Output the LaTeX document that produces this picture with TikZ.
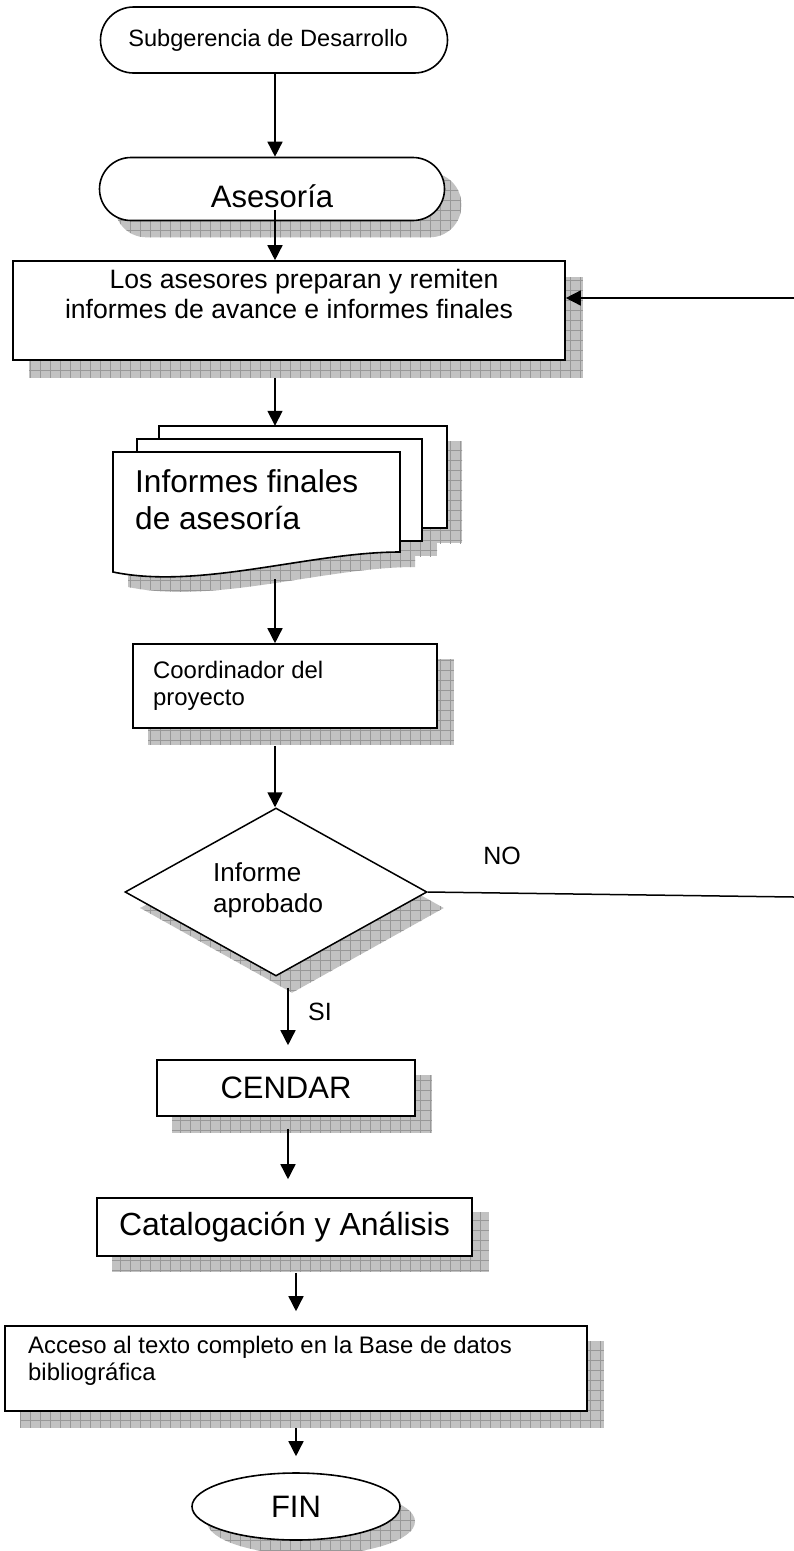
\documentclass[tikz,border=0pt]{standalone}
\usepackage{fontspec}
\setmainfont{Liberation Sans}
\usetikzlibrary{shapes.geometric,arrows.meta,backgrounds,calc}
\definecolor{shfill}{HTML}{C2C2C2}
\definecolor{shline}{HTML}{989898}
\newcommand\fs[2]{\fontsize{#1}{#2}\selectfont}
\newcommand\shadowfill[1]{%
  \fill[shfill] #1;
  \begin{scope}\clip #1;
    \draw[shline, line width=0.7pt, step=10pt] (0,1560) grid (800,0);
  \end{scope}}
\tikzset{
  box/.style={draw, line width=1.6pt, fill=white, inner sep=0pt, rectangle},
  sheet/.style={draw, line width=1.6pt, fill=white},
  conn/.style={line width=1.5pt, -{Triangle[length=15pt,width=15pt]}},
  plain/.style={line width=1.5pt},
  lbl/.style={inner sep=0pt, align=left}
}
\begin{document}
\begin{tikzpicture}[x=1pt,y=-1pt]
\useasboundingbox (0,0) rectangle (794,1551);

% column coordinates
\coordinate (cA) at (275,0);
\coordinate (cB) at (288,0);
\coordinate (cC) at (296,0);
\coordinate (loopin) at (794,298);
\coordinate (noend) at (794,897);

% nodes
\node[box, rounded corners=33pt, minimum width=347pt, minimum height=66pt] (sub) at (274,40) {};
\node[lbl, font=\fs{23.6}{27}] (subt) at (268,40) {Subgerencia de Desarrollo};
\node[box, rounded corners=31.5pt, minimum width=345pt, minimum height=63pt] (ases) at (272,189) {};
\node[lbl, font=\fs{31}{36}] (asest) at (272,196) {Asesoría};
\node[box, minimum width=552pt, minimum height=99pt] (b1) at (289,310.5) {};
\node[inner sep=0pt, align=center, font=\fs{26.6}{30}] (b1t) at (289,294) {\hspace*{30pt}Los asesores preparan y remiten\\informes de avance e informes finales};

% document stack
\node[inner sep=0pt, minimum width=334pt, minimum height=151pt] (docs) at (280,501.5) {};
\draw[sheet] (159,426) rectangle (447,528);
\draw[sheet] (137,439) rectangle (422,541);
\draw[sheet] (113,452) -- (400,452) -- (400,552) .. controls (310,552) and (200,590) .. (113,572) -- cycle;
\node[lbl, anchor=west, font=\fs{31.6}{37}] (docst) at (135,500) {Informes finales\\de asesoría};

\node[box, minimum width=304pt, minimum height=84pt] (coord) at (285,686) {};
\node[lbl, anchor=west, font=\fs{23.9}{27}] (coordt) at (153,686) {Coordinador del\\proyecto};

\node[diamond, draw, line width=1.5pt, fill=white, minimum width=302pt, minimum height=168pt, inner sep=0pt] (dec) at (276,892) {};
\node[lbl, anchor=west, font=\fs{26}{31}] (dect) at (213,890) {Informe\\aprobado};

\node[box, minimum width=258pt, minimum height=56pt, font=\fs{31}{36}] (cendar) at (286,1088) {CENDAR};
\node[box, minimum width=375pt, minimum height=58pt, font=\fs{32}{37}] (cat) at (284.5,1227) {Catalogación y Análisis};
\node[box, minimum width=582pt, minimum height=85pt] (acc) at (296,1368.5) {};
\node[lbl, anchor=west, font=\fs{23.9}{27}] (acct) at (28,1361) {Acceso al texto completo en la Base de datos\\bibliográfica};
\node[ellipse, draw, line width=1.6pt, fill=white, minimum width=208pt, minimum height=67pt, inner sep=0pt, font=\fs{31}{36}] (fin) at (296,1506.5) {FIN};

\node[lbl, font=\fs{25}{29}] (no) at (502,856) {NO};
\node[lbl, font=\fs{25}{29}] (si) at (320,1012) {SI};

% shadows
\begin{scope}[on background layer]
  \shadowfill{[rounded corners=31.5pt] ($(ases.south west)+(16,16)$) rectangle ($(ases.north east)+(16,16)$)}
  \shadowfill{($(b1.south west)+(17,17)$) rectangle ($(b1.north east)+(17,17)$)}
  \shadowfill{(174,441) rectangle (462,543)}
  \shadowfill{(152,454) rectangle (437,556)}
  \shadowfill{(128,467) -- (415,467) -- (415,567) .. controls (325,567) and (215,605) .. (128,587) -- cycle}
  \shadowfill{($(coord.south west)+(16,16)$) rectangle ($(coord.north east)+(16,16)$)}
  \shadowfill{($(dec.north)+(16,16)$) -- ($(dec.east)+(16,16)$) -- ($(dec.south)+(16,16)$) -- ($(dec.west)+(16,16)$) -- cycle}
  \shadowfill{($(cendar.south west)+(16,16)$) rectangle ($(cendar.north east)+(16,16)$)}
  \shadowfill{($(cat.south west)+(16,15)$) rectangle ($(cat.north east)+(16,15)$)}
  \shadowfill{($(acc.south west)+(16,16)$) rectangle ($(acc.north east)+(16,16)$)}
  \shadowfill{($(fin.center)+(15,15)$) ellipse [x radius=104pt, y radius=33.5pt]}
\end{scope}

% connectors
\draw[conn] (sub.south -| cA) -- (ases.north -| cA);
\draw[conn] ($(ases.center -| cA)+(0,21)$) -- (b1.north -| cA);
\draw[conn] (loopin) -- (loopin -| b1.east);
\draw[conn] ($(b1.south -| cA)+(0,17)$) -- (docs.north -| cA);
\draw[conn] ($(docs.south -| cA)+(0,2)$) -- (coord.north -| cA);
\draw[conn] ($(coord.south -| cA)+(0,17)$) -- (dec.north -| cA);
\draw[plain] (dec.east) -- (noend);
\draw[conn, shorten >=14pt] ($(dec.south -| cB)+(0,11)$) -- (cendar.north -| cB);
\draw[conn, shorten >=18pt] ($(cendar.south -| cB)+(0,12)$) -- (cat.north -| cB);
\draw[conn, shorten >=14pt] ($(cat.south -| cC)+(0,16)$) -- (acc.north -| cC);
\draw[conn, shorten >=16pt] ($(acc.south -| cC)+(0,16)$) -- (fin.north -| cC);
\end{tikzpicture}
\end{document}
